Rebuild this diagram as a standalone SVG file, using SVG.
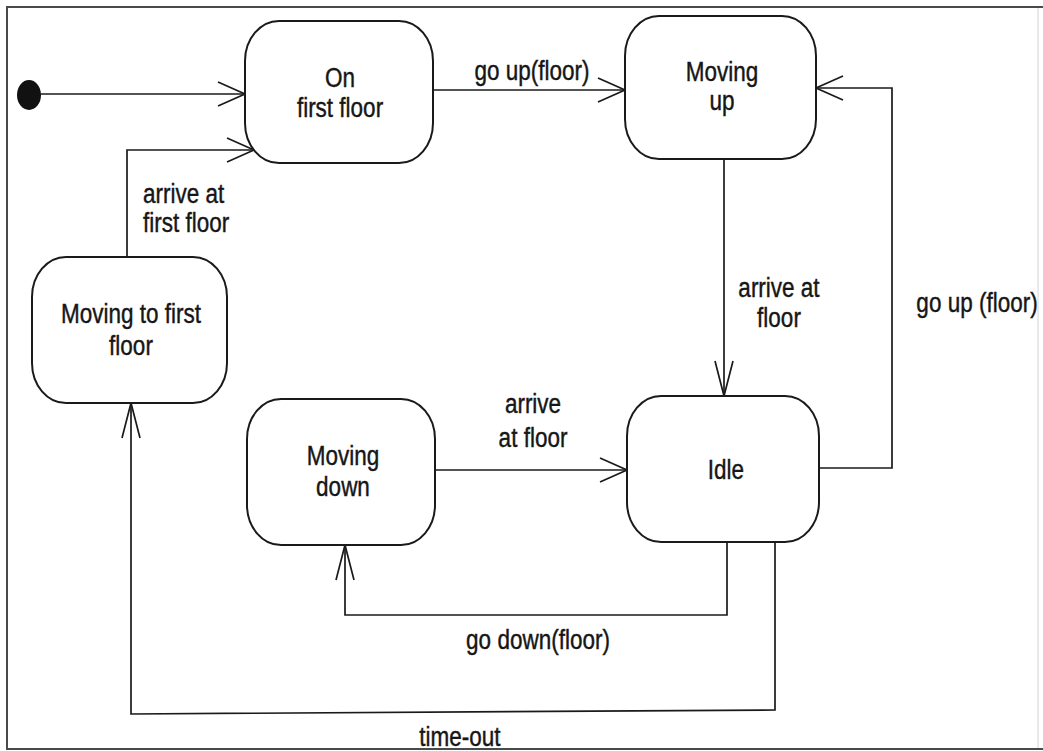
<svg xmlns="http://www.w3.org/2000/svg" width="1043" height="751" viewBox="0 0 1043 751">
  <defs>
    <!-- open arrowheads: horizontal runs and the (slightly longer) vertical runs -->
    <marker id="arrowH" viewBox="-30 -14 32 28" refX="0" refY="0" markerWidth="32" markerHeight="28" markerUnits="userSpaceOnUse" orient="auto" overflow="visible">
      <path d="M-27,-12 L0,0 L-27,12" fill="none" stroke="#1a1a1a" stroke-width="1.7"/>
    </marker>
    <marker id="arrowV" viewBox="-36 -12 38 24" refX="0" refY="0" markerWidth="38" markerHeight="24" markerUnits="userSpaceOnUse" orient="auto" overflow="visible">
      <path d="M-35,-9 L0,0 L-35,9" fill="none" stroke="#1a1a1a" stroke-width="1.7"/>
    </marker>
  </defs>
  <style>
    .frame { fill: none; stroke: #4a4a4a; stroke-width: 2; }
    .frame-r { fill: none; stroke: #d4d4d4; stroke-width: 1; }
    .state { fill: #fff; stroke: #1a1a1a; stroke-width: 2; }
    .edge { fill: none; stroke: #1a1a1a; stroke-width: 1.7; }
    .h { marker-end: url(#arrowH); }
    .v { marker-end: url(#arrowV); }
    text { font-family: "Liberation Sans", Arial, sans-serif; font-size: 22.5px; fill: #161616; stroke: #161616; stroke-width: 0.35; }
    .c { text-anchor: middle; }
  </style>

  <rect width="1043" height="751" fill="#fff"/>
  <path class="frame" d="M1043,7 H7 V749 H1043"/>
  <path class="frame-r" d="M1038,8 V748"/>

  <!-- transitions -->
  <g id="connectors">
    <path class="edge h" d="M41,94 H245"/>
    <path class="edge h" d="M433,90 H625"/>
    <path class="edge h" d="M127,257 V150 H254"/>
    <path class="edge v" d="M724,159 V396"/>
    <path class="edge h" d="M819,468 H892 V88 H816"/>
    <path class="edge h" d="M435,470 H627"/>
    <path class="edge v" d="M727,542 V615 H345 V545"/>
    <path class="edge v" d="M775,542 V710 L131,714 V403"/>
  </g>

  <!-- transition labels -->
  <g id="labels">
    <text class="c" transform="translate(532 80) scale(1 1.2)">go up(floor)</text>
    <text transform="translate(143 203) scale(1 1.2)">arrive at</text>
    <text transform="translate(143 232) scale(1 1.2)">first floor</text>
    <text class="c" transform="translate(779 297) scale(1 1.2)">arrive at</text>
    <text class="c" transform="translate(779 327) scale(1 1.2)">floor</text>
    <text class="c" transform="translate(977 312) scale(1 1.2)">go up (floor)</text>
    <text class="c" transform="translate(533 413) scale(1 1.2)">arrive</text>
    <text class="c" transform="translate(533 447) scale(1 1.2)">at floor</text>
    <text class="c" transform="translate(538 649) scale(1 1.2)">go down(floor)</text>
    <text class="c" transform="translate(460 746) scale(1 1.2)">time-out</text>
  </g>

  <g id="initial">
    <ellipse cx="29" cy="95" rx="12" ry="15" fill="#111"/>
  </g>

  <g id="on-first-floor">
    <rect class="state" x="245" y="21" width="188" height="142" rx="34" ry="40"/>
    <text class="c" transform="translate(340 87) scale(1 1.2)">On</text>
    <text class="c" transform="translate(340 117) scale(1 1.2)">first floor</text>
  </g>

  <g id="moving-up">
    <rect class="state" x="625" y="16" width="191" height="143" rx="34" ry="40"/>
    <text class="c" transform="translate(722 81) scale(1 1.2)">Moving</text>
    <text class="c" transform="translate(722 110) scale(1 1.2)">up</text>
  </g>

  <g id="moving-to-first-floor">
    <rect class="state" x="32" y="257" width="195" height="146" rx="34" ry="40"/>
    <text class="c" transform="translate(131 323) scale(1 1.2)">Moving to first</text>
    <text class="c" transform="translate(131 355) scale(1 1.2)">floor</text>
  </g>

  <g id="moving-down">
    <rect class="state" x="247" y="399" width="188" height="146" rx="34" ry="40"/>
    <text class="c" transform="translate(343 465) scale(1 1.2)">Moving</text>
    <text class="c" transform="translate(343 496) scale(1 1.2)">down</text>
  </g>

  <g id="idle">
    <rect class="state" x="627" y="396" width="192" height="146" rx="34" ry="40"/>
    <text class="c" transform="translate(726 479) scale(1 1.2)">Idle</text>
  </g>
</svg>
